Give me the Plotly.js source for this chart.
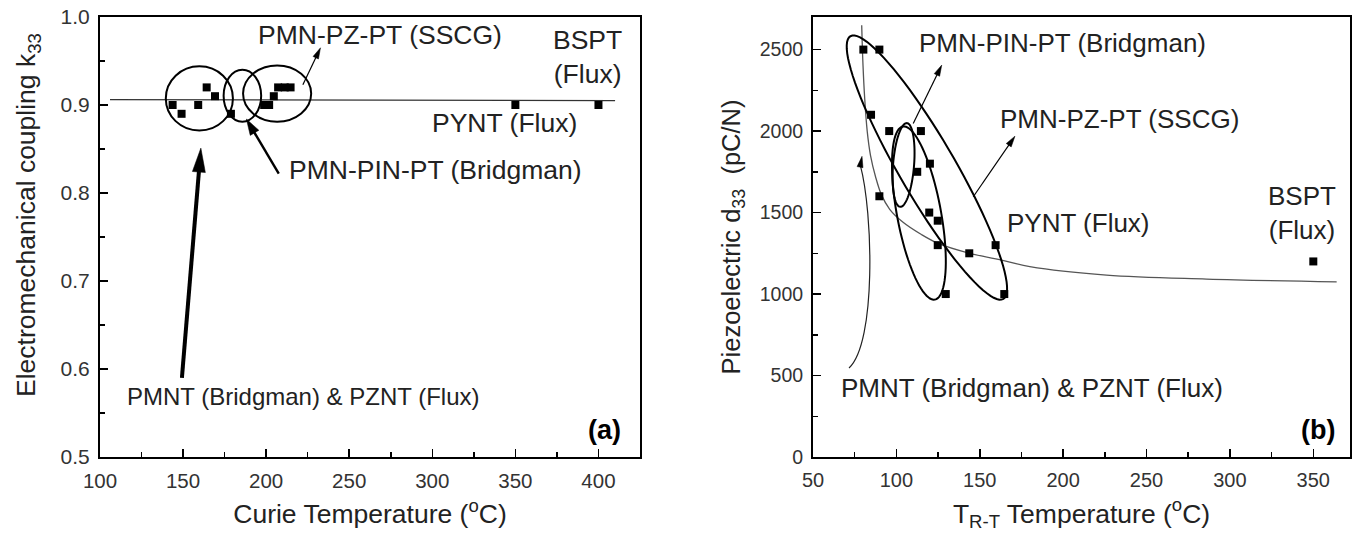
<!DOCTYPE html>
<html><head><meta charset="utf-8">
<script src="https://cdn.plot.ly/plotly-3.0.1.min.js"></script>
<style>html,body{margin:0;padding:0;background:#fff}#chart{width:1360px;height:540px}</style>
</head><body><div id="chart"></div>
<script>
// ---------- Panel (a): k33 vs Curie temperature ----------
const curieT = [143.7, 149.1, 159.1, 164.2, 169.2, 178.8, 198.8, 201.8, 204.6, 207.2, 211.2, 214.7, 350, 400];
const k33    = [0.90, 0.89, 0.90, 0.92, 0.91, 0.89, 0.90, 0.90, 0.91, 0.92, 0.92, 0.92, 0.90, 0.90];
const fitAX  = [106, 410];
const fitAY  = [0.906, 0.905];

// ---------- Panel (b): d33 vs T_R-T ----------
const trtT = [80.2, 89.8, 84.8, 95.7, 114.7, 120.1, 112.5, 89.8, 119.7, 124.8, 124.8, 143.7, 159.5, 129.6, 164.7, 350];
const d33  = [2500, 2500, 2100, 2000, 2000, 1800, 1750, 1600, 1500, 1450, 1300, 1250, 1300, 1000, 1000, 1200];
const fitBX = [79.2, 80, 81, 82.5, 84.5, 87.5, 91, 96, 104, 115, 125, 144, 165, 180, 226, 286, 364];
const fitBY = [2650, 2400, 2200, 2000, 1850, 1720, 1610, 1520, 1440, 1365, 1311, 1250, 1204, 1168, 1116, 1092, 1075];

// tick labels
const xTicksA = [100, 150, 200, 250, 300, 350, 400];
const yTicksA = [0.5, 0.6, 0.7, 0.8, 0.9, 1.0];
const xTicksB = [50, 100, 150, 200, 250, 300, 350];
const yTicksB = [0, 500, 1000, 1500, 2000, 2500];

// group outlines (a): circles [x0, x1, y0, y1]
const circA1 = [139.6, 180.0, 0.871, 0.944];
const circA2 = [174.4, 197.0, 0.881, 0.940];
const circA3 = [186.1, 227.1, 0.881, 0.945];
// group outlines (b): rotated ellipses [cx, cy, semiMajorPx, semiMinorPx, tiltDeg]
const ellB1 = [118.3, 1776, 152, 28, -30.2];
const ellB2 = [104.3, 1792, 42, 10.5, 4.6];
const ellB3 = [113.5, 1497, 88, 22, -10.5];
// curved pointer (b): cubic bezier nodes
const curveX = [71.6, 88, 86, 78.4];
const curveY = [546, 700, 1500, 1790];
// straight pointers [tailX, tailY, headX, headY]
const ptrA1 = [149.3, 0.590, 160.7, 0.851];
const ptrA2 = [207.6, 0.822, 188.1, 0.884];
const ptrA3 = [222.1, 0.923, 232.7, 0.965];
const ptrB1 = [110.1, 2047, 127.2, 2405];
const ptrB2 = [146.1, 1597, 171.1, 1969];
const ptrB3 = [78.4, 1790, 79.4, 1845];

const W = 1360, H = 540, MT = 17, MB = 83;
const domA = [100/W, 640/W], domB = [813/W, 1350/W];
const rngXA = [100, 425], rngYA = [0.5, 1.0];
const rngXB = [50, 372], rngYB = [0, 2700];
const FONT = 'Liberation Sans, Arial, sans-serif';
const PH = H - MT - MB;
const scaleA = [(domA[1]-domA[0])*W/(rngXA[1]-rngXA[0]), PH/(rngYA[1]-rngYA[0])];
const scaleB = [(domB[1]-domB[0])*W/(rngXB[1]-rngXB[0]), PH/(rngYB[1]-rngYB[0])];

function ellipsePath(e) {
  const [cx, cy, A, B, tilt] = e;
  const [sx, sy] = scaleB;
  const th = tilt*Math.PI/180;
  const u = [Math.sin(th), -Math.cos(th)], v = [Math.cos(th), Math.sin(th)];
  let p = '';
  for (let i = 0; i <= 90; i++) {
    const t = 2*Math.PI*i/90;
    const ox = A*Math.cos(t)*u[0] + B*Math.sin(t)*v[0];
    const oy = A*Math.cos(t)*u[1] + B*Math.sin(t)*v[1];
    p += (i ? ' L ' : 'M ') + (cx + ox/sx).toFixed(3) + ',' + (cy - oy/sy).toFixed(2);
  }
  return p + ' Z';
}

function pointer(xref, yref, sc, a, w, hl, hw, withShaft) {
  const [sx, sy] = sc;
  const [tx, ty, hx, hy] = a;
  const dxp = (hx - tx)*sx, dyp = -(hy - ty)*sy;
  const L = Math.hypot(dxp, dyp), ux = dxp/L, uy = dyp/L;
  const bx = hx - ux*hl/sx, by = hy + uy*hl/sy;
  const nx = -uy, ny = ux;
  const l1x = bx + nx*hw/2/sx, l1y = by - ny*hw/2/sy;
  const l2x = bx - nx*hw/2/sx, l2y = by + ny*hw/2/sy;
  const out = [{type: 'path', xref, yref, path: `M ${hx},${hy} L ${l1x},${l1y} L ${l2x},${l2y} Z`,
    fillcolor: '#000', line: {color: '#000', width: 0.5}}];
  if (withShaft) {
    const sbx = hx - ux*hl*0.8/sx, sby = hy + uy*hl*0.8/sy;
    out.unshift({type: 'line', xref, yref, x0: tx, y0: ty, x1: sbx, y1: sby, line: {color: '#000', width: w}});
  }
  return out;
}

const markerStyle = {symbol: 'square', size: 8, color: '#000'};
const traces = [
  {x: fitAX, y: fitAY, mode: 'lines', line: {color: '#333', width: 1.3}, xaxis: 'x', yaxis: 'y', hoverinfo: 'skip'},
  {x: curieT, y: k33, mode: 'markers', marker: markerStyle, xaxis: 'x', yaxis: 'y'},
  {x: fitBX, y: fitBY, mode: 'lines', line: {color: '#555', width: 1.3, shape: 'spline', smoothing: 1}, xaxis: 'x2', yaxis: 'y2', hoverinfo: 'skip'},
  {x: trtT, y: d33, mode: 'markers', marker: markerStyle, xaxis: 'x2', yaxis: 'y2'}
];

function axis(dom, rng, ticks, minor, anchor, fmt, title, tsize, standoff, fsize) {
  return {
    domain: dom, range: rng, anchor: anchor, tickmode: 'array', tickvals: ticks,
    tickformat: fmt, showgrid: false, zeroline: false,
    showline: true, linecolor: '#000', linewidth: 2, mirror: true,
    ticks: 'inside', ticklen: 8, tickwidth: 1.5, tickcolor: '#000',
    minor: {ticks: 'inside', ticklen: 5, tickwidth: 1.5, tickcolor: '#000', dtick: minor, showgrid: false},
    tickfont: {family: FONT, size: fsize, color: '#333'},
    ticklabelstandoff: 4,
    title: {text: title, font: {family: FONT, size: tsize, color: '#222'}, standoff: standoff}
  };
}

const layout = {
  width: W, height: H, margin: {l: 0, r: 0, t: MT, b: MB},
  paper_bgcolor: '#fff', plot_bgcolor: '#fff', showlegend: false,
  font: {family: FONT, color: '#222'},
  xaxis: axis(domA, rngXA, xTicksA, 25, 'y', '', 'Curie Temperature (<sup>o</sup>C)', 26.5, 14, 20.5),
  yaxis: axis([0, 1], rngYA, yTicksA, 0.05, 'x', '.1f', '', 26, 12, 21),
  xaxis2: axis(domB, rngXB, xTicksB, 25, 'y2', '', 'T<sub>R-T</sub> Temperature (<sup>o</sup>C)', 26.5, 14, 20),
  yaxis2: axis([0, 1], rngYB, yTicksB, 250, 'x2', '', 'Piezoelectric d<sub>33</sub>  (pC/N)', 25.5, 12, 19.5),
  shapes: [
    {type: 'circle', xref: 'x', yref: 'y', x0: circA1[0], x1: circA1[1], y0: circA1[2], y1: circA1[3], line: {color: '#000', width: 2}},
    {type: 'circle', xref: 'x', yref: 'y', x0: circA2[0], x1: circA2[1], y0: circA2[2], y1: circA2[3], line: {color: '#000', width: 2}},
    {type: 'circle', xref: 'x', yref: 'y', x0: circA3[0], x1: circA3[1], y0: circA3[2], y1: circA3[3], line: {color: '#000', width: 2}},
    {type: 'path', xref: 'x2', yref: 'y2', path: ellipsePath(ellB1), line: {color: '#000', width: 2}},
    {type: 'path', xref: 'x2', yref: 'y2', path: ellipsePath(ellB2), line: {color: '#000', width: 2}},
    {type: 'path', xref: 'x2', yref: 'y2', path: ellipsePath(ellB3), line: {color: '#000', width: 2}},
    {type: 'path', xref: 'x2', yref: 'y2',
     path: `M ${curveX[0]},${curveY[0]} C ${curveX[1]},${curveY[1]} ${curveX[2]},${curveY[2]} ${curveX[3]},${curveY[3]}`,
     line: {color: '#222', width: 1.2}},
    ...pointer('x', 'y', scaleA, ptrA1, 4, 24, 13, true),
    ...pointer('x', 'y', scaleA, ptrA2, 2.4, 16, 10, true),
    ...pointer('x', 'y', scaleA, ptrA3, 1.2, 11, 6, true),
    ...pointer('x2', 'y2', scaleB, ptrB1, 1.2, 11, 6, true),
    ...pointer('x2', 'y2', scaleB, ptrB2, 1.2, 11, 6, true),
    ...pointer('x2', 'y2', scaleB, ptrB3, 1.2, 11, 6, false)
  ],
  annotations: []
};

function label(xref, yref, x, y, text, size, bold) {
  return {xref, yref, x, y, text: bold ? '<b>' + text + '</b>' : text, showarrow: false,
    xanchor: 'center', yanchor: 'middle', font: {family: FONT, size: size, color: bold ? '#000' : '#222'}};
}

layout.annotations.push(
  {xref: 'paper', yref: 'paper', x: 28/W, y: 1 - (215 - MT)/PH, text: 'Electromechanical coupling k<sub>33</sub>',
   textangle: -90, showarrow: false, xanchor: 'center', yanchor: 'middle', font: {family: FONT, size: 26.5, color: '#222'}},
  label('x', 'y', 268.4, 0.979, 'PMN-PZ-PT (SSCG)', 26.5),
  label('x', 'y', 393.4, 0.955, 'BSPT<br>(Flux)', 26.5),
  label('x', 'y', 343.5, 0.880, 'PYNT (Flux)', 26.5),
  label('x', 'y', 302, 0.826, 'PMN-PIN-PT (Bridgman)', 26.5),
  label('x', 'y', 222.2, 0.569, 'PMNT (Bridgman) &amp; PZNT (Flux)', 24),
  label('x', 'y', 403.6, 0.531, '(a)', 27, true),

  label('x2', 'y2', 199.9, 2540, 'PMN-PIN-PT (Bridgman)', 26),
  label('x2', 'y2', 234, 2074, 'PMN-PZ-PT (SSCG)', 26),
  label('x2', 'y2', 208.9, 1436, 'PYNT (Flux)', 26),
  label('x2', 'y2', 343, 1497, 'BSPT<br>(Flux)', 26),
  label('x2', 'y2', 181.3, 423, 'PMNT (Bridgman) &amp; PZNT (Flux)', 26),
  label('x2', 'y2', 352.8, 166, '(b)', 27, true)
);

Plotly.newPlot('chart', traces, layout, {staticPlot: true, displayModeBar: false});
</script></body></html>
